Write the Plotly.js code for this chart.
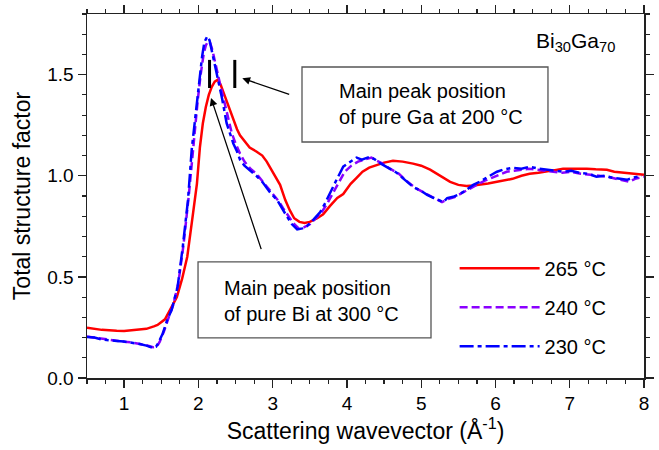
<!DOCTYPE html>
<html>
<head>
<meta charset="utf-8">
<script src="https://cdn.plot.ly/plotly-3.0.1.min.js"></script>
<style>html,body{margin:0;padding:0;background:#fff;}#chart{width:659px;height:450px;}</style>
</head>
<body>
<div id="chart"></div>
<script>
// 265 °C
const q265 = [0.5,0.7,0.9,1.0,1.1,1.2,1.3,1.4,1.45,1.55,1.62,1.71,1.78,1.85,1.93,1.98,2.02,2.06,2.10,2.14,2.18,2.22,2.26,2.30,2.34,2.38,2.43,2.47,2.52,2.56,2.62,2.69,2.78,2.86,2.92,2.96,3.02,3.06,3.10,3.17,3.23,3.29,3.36,3.43,3.50,3.60,3.68,3.77,3.87,3.95,4.05,4.13,4.21,4.30,4.40,4.50,4.62,4.75,4.89,5.0,5.12,5.25,5.39,5.50,5.61,5.70,5.79,5.90,6.02,6.12,6.23,6.35,6.46,6.58,6.69,6.80,6.91,7.05,7.23,7.35,7.50,7.60,7.71,7.85,7.97,8.0];
const s265 = [0.248,0.238,0.234,0.233,0.236,0.238,0.243,0.255,0.262,0.29,0.337,0.40,0.49,0.60,0.82,0.96,1.14,1.26,1.34,1.40,1.44,1.465,1.475,1.45,1.41,1.37,1.31,1.27,1.23,1.20,1.17,1.14,1.12,1.10,1.07,1.045,1.01,0.98,0.955,0.88,0.83,0.79,0.772,0.767,0.772,0.79,0.81,0.85,0.89,0.91,0.96,0.99,1.02,1.04,1.054,1.065,1.074,1.07,1.06,1.05,1.03,1.00,0.97,0.955,0.95,0.952,0.955,0.962,0.97,0.978,0.985,1.00,1.01,1.015,1.02,1.028,1.035,1.036,1.035,1.032,1.03,1.02,1.015,1.01,1.005,1.005];

// 240 °C
const q240 = [0.5,0.6,0.7,0.8,0.9,1.0,1.1,1.21,1.3,1.39,1.44,1.48,1.54,1.60,1.66,1.73,1.80,1.87,1.93,1.99,2.03,2.07,2.10,2.13,2.16,2.19,2.22,2.26,2.30,2.34,2.40,2.45,2.50,2.56,2.62,2.70,2.78,2.86,2.94,3.02,3.08,3.14,3.21,3.28,3.35,3.42,3.50,3.58,3.66,3.73,3.80,3.88,3.97,4.06,4.15,4.25,4.33,4.40,4.48,4.58,4.70,4.80,4.92,5.02,5.12,5.20,5.28,5.36,5.45,5.55,5.65,5.75,5.85,5.95,6.05,6.15,6.25,6.35,6.45,6.55,6.65,6.78,6.90,7.02,7.15,7.28,7.40,7.52,7.62,7.72,7.80,7.88,7.95,8.0];
const s240 = [0.205,0.20,0.192,0.187,0.183,0.179,0.176,0.17,0.162,0.152,0.155,0.18,0.235,0.30,0.36,0.47,0.66,0.90,1.14,1.37,1.50,1.60,1.645,1.665,1.655,1.62,1.57,1.50,1.44,1.38,1.28,1.21,1.16,1.11,1.07,1.035,1.01,0.975,0.94,0.905,0.875,0.84,0.80,0.765,0.74,0.745,0.76,0.79,0.82,0.86,0.91,0.96,1.02,1.05,1.07,1.08,1.09,1.075,1.06,1.035,1.01,0.975,0.94,0.92,0.90,0.885,0.87,0.885,0.895,0.915,0.935,0.955,0.975,0.99,1.005,1.02,1.025,1.03,1.035,1.03,1.025,1.02,1.015,1.02,1.01,1.005,1.0,0.995,0.985,0.975,0.97,0.985,0.99,0.995];

// 230 °C
const q230 = [0.5,0.6,0.7,0.8,0.9,1.0,1.1,1.21,1.3,1.39,1.43,1.46,1.52,1.58,1.64,1.72,1.79,1.86,1.91,1.98,2.02,2.05,2.08,2.12,2.15,2.18,2.21,2.25,2.28,2.32,2.38,2.43,2.47,2.52,2.56,2.62,2.69,2.78,2.86,2.92,2.96,3.06,3.12,3.19,3.26,3.33,3.40,3.46,3.54,3.64,3.70,3.77,3.86,3.95,4.05,4.13,4.20,4.31,4.38,4.44,4.55,4.67,4.78,4.89,5.0,5.08,5.17,5.25,5.30,5.35,5.43,5.52,5.61,5.70,5.79,5.90,6.02,6.10,6.23,6.35,6.46,6.58,6.69,6.80,6.91,7.02,7.13,7.25,7.36,7.47,7.58,7.68,7.77,7.85,7.92,7.97];
const s230 = [0.203,0.200,0.190,0.185,0.183,0.180,0.175,0.168,0.160,0.149,0.155,0.173,0.22,0.287,0.337,0.45,0.65,0.88,1.13,1.376,1.50,1.59,1.66,1.69,1.67,1.62,1.56,1.49,1.44,1.38,1.26,1.20,1.16,1.12,1.08,1.05,1.03,1.00,0.97,0.94,0.92,0.88,0.84,0.80,0.76,0.735,0.74,0.75,0.78,0.82,0.86,0.915,0.98,1.045,1.07,1.09,1.08,1.094,1.08,1.064,1.04,1.015,0.98,0.945,0.925,0.906,0.89,0.88,0.87,0.89,0.896,0.91,0.93,0.955,0.97,0.995,1.02,1.03,1.04,1.035,1.045,1.035,1.03,1.025,1.02,1.025,1.015,1.01,0.995,1.0,0.99,0.985,0.98,0.99,0.995,1.0];

const seriesNames = ['265 °C', '240 °C', '230 °C'];
const seriesColors = ['#ff0000', '#8a00ff', '#0000ff'];
// reference main-peak positions (Å^-1): pure Bi at 300 °C, pure Ga at 200 °C
const peakLabels = ['Bi', 'Ga'];
const peakX = [2.15, 2.49];
const peakYRange = [1.434, 1.573];

const FONT = 'Liberation Sans, Arial, Helvetica, sans-serif';

const traces = [
  {x: q265, y: s265, name: seriesNames[0], mode: 'lines', legendgroup: 'a',
   line: {color: seriesColors[0], width: 2.5}},
  {x: q240, y: s240, name: seriesNames[1], mode: 'lines', legendgroup: 'b',
   line: {color: seriesColors[1], width: 2.5, dash: '8px,4px'}},
  {x: q230, y: s230, name: seriesNames[2], mode: 'lines', legendgroup: 'c',
   line: {color: seriesColors[2], width: 2.5, dash: '14px,4px,4px,4px'}}
];

const shapes = [
  {type: 'line', xref: 'x', yref: 'y', x0: peakX[0], x1: peakX[0], y0: peakYRange[0], y1: peakYRange[1], line: {color: '#000', width: 3}},
  {type: 'line', xref: 'x', yref: 'y', x0: peakX[1], x1: peakX[1], y0: peakYRange[0], y1: peakYRange[1], line: {color: '#000', width: 3}},
  {type: 'rect', xref: 'x', yref: 'y', x0: 3.395, x1: 6.707, y0: 1.167, y1: 1.538, line: {color: '#555', width: 1.3}, fillcolor: 'rgba(0,0,0,0)'},
  {type: 'rect', xref: 'x', yref: 'y', x0: 1.995, x1: 5.132, y0: 0.198, y1: 0.574, line: {color: '#555', width: 1.3}, fillcolor: 'rgba(0,0,0,0)'}
];

const annotations = [
  {xref: 'x', yref: 'y', x: 3.866, y: 1.353, xanchor: 'left', yanchor: 'middle', align: 'left', showarrow: false,
   text: 'Main peak position<br>of pure Ga at 200 °C', font: {family: FONT, size: 20, color: '#000'}},
  {xref: 'x', yref: 'y', x: 2.318, y: 0.381, xanchor: 'left', yanchor: 'middle', align: 'left', showarrow: false,
   text: 'Main peak position<br>of pure Bi at 300 °C', font: {family: FONT, size: 20, color: '#000'}},
  {xref: 'x', yref: 'y', x: 2.591, y: 1.482, axref: 'x', ayref: 'y', ax: 3.243, ay: 1.400, text: '', showarrow: true,
   arrowhead: 2, arrowsize: 1.2, arrowwidth: 1.3, arrowcolor: '#000'},
  {xref: 'x', yref: 'y', x: 2.170, y: 1.385, axref: 'x', ayref: 'y', ax: 2.852, ay: 0.630, text: '', showarrow: true,
   arrowhead: 2, arrowsize: 1.2, arrowwidth: 1.3, arrowcolor: '#000'},
  {xref: 'paper', yref: 'paper', x: 0.951, y: 0.922, xanchor: 'right', yanchor: 'middle', showarrow: false,
   text: 'Bi<sub>30</sub>Ga<sub>70</sub>', font: {family: FONT, size: 21, color: '#000'}}
];

const axisCommon = {
  showgrid: false, zeroline: false, showline: true, linecolor: '#222', linewidth: 1.5,
  mirror: 'allticks', ticks: 'outside', ticklen: 8, tickwidth: 1.3, tickcolor: '#222',
  tickfont: {family: FONT, size: 19, color: '#000'}
};

const layout = {
  width: 659, height: 450,
  margin: {l: 87, r: 15, t: 14, b: 72},
  paper_bgcolor: '#fff', plot_bgcolor: '#fff',
  font: {family: FONT, color: '#000'},
  showlegend: true,
  legend: {x: 0.66, y: 0.355, xanchor: 'left', yanchor: 'top', bgcolor: 'rgba(0,0,0,0)',
           traceorder: 'grouped', tracegroupgap: 10, itemwidth: 80,
           font: {family: FONT, size: 20, color: '#000'}},
  xaxis: Object.assign({}, axisCommon, {
    range: [0.5, 8], tick0: 0, dtick: 1,
    minor: {dtick: 0.25, ticklen: 4, tickwidth: 1.2, tickcolor: '#222', ticks: 'outside', showgrid: false},
    title: {text: 'Scattering wavevector (Å<sup>-1</sup>)', font: {family: FONT, size: 23, color: '#000'}, standoff: 8}
  }),
  yaxis: Object.assign({}, axisCommon, {
    range: [0, 1.8], tick0: 0, dtick: 0.5, tickformat: '.1f',
    minor: {dtick: 0.1, ticklen: 4, tickwidth: 1.2, tickcolor: '#222', ticks: 'outside', showgrid: false},
    title: {text: 'Total structure factor', font: {family: FONT, size: 23, color: '#000'}, standoff: 10}
  }),
  shapes: shapes,
  annotations: annotations
};

Plotly.newPlot('chart', traces, layout, {displayModeBar: false, staticPlot: true});
</script>
</body>
</html>
